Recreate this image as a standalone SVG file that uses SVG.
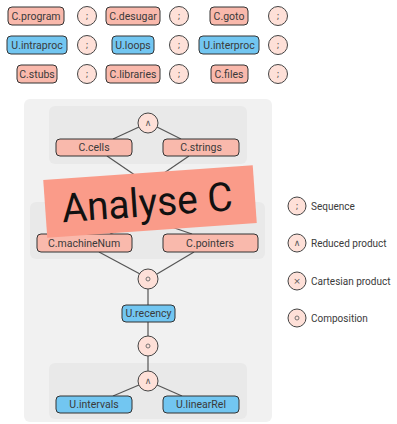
<svg xmlns="http://www.w3.org/2000/svg" width="397" height="424" viewBox="0 0 397 424">
  <style>
    text { font-family: Roboto, "Noto Sans", "DejaVu Sans", sans-serif; fill: #3a3a3a; }
    .lbl { font-size: 10.5px; text-anchor: middle; dominant-baseline: central; }
    .c { fill: #f9b9ac; stroke: #333; stroke-width: 1; }
    .u { fill: #72c6f1; stroke: #333; stroke-width: 1; }
    .op { fill: #fee0d8; stroke: #444; stroke-width: 1; }
    .sym { font-family: "DejaVu Sans", sans-serif; font-size: 9px; text-anchor: middle; dominant-baseline: central; fill: #555; }
    .ring { fill: none; stroke: #666; stroke-width: 0.9; }
    .edge { stroke: #555; stroke-width: 1.2; fill: none; }
    .leg { font-size: 10px; dominant-baseline: central; }
  </style>

  <rect width="397" height="424" fill="#ffffff"/>

  <!-- sequence rows -->
  <g id="c-program"><rect class="c" x="8" y="7" width="56" height="18" rx="4"/><text class="lbl" x="36" y="16">C.program</text></g>
  <g id="seq-1"><circle class="op" cx="87" cy="16" r="9.5"/><text class="sym" x="87" y="16">;</text></g>
  <g id="c-desugar"><rect class="c" x="106" y="7" width="54" height="18" rx="4"/><text class="lbl" x="133" y="16">C.desugar</text></g>
  <g id="seq-2"><circle class="op" cx="179" cy="16" r="9.5"/><text class="sym" x="179" y="16">;</text></g>
  <g id="c-goto"><rect class="c" x="210" y="7" width="38" height="18" rx="4"/><text class="lbl" x="229" y="16">C.goto</text></g>
  <g id="seq-3"><circle class="op" cx="278" cy="16" r="9.5"/><text class="sym" x="278" y="16">;</text></g>

  <g id="u-intraproc"><rect class="u" x="7" y="36" width="60" height="18" rx="4"/><text class="lbl" x="37" y="45">U.intraproc</text></g>
  <g id="seq-4"><circle class="op" cx="87" cy="45" r="9.5"/><text class="sym" x="87" y="45">;</text></g>
  <g id="u-loops"><rect class="u" x="112" y="36" width="42" height="18" rx="4"/><text class="lbl" x="133" y="45">U.loops</text></g>
  <g id="seq-5"><circle class="op" cx="179" cy="45" r="9.5"/><text class="sym" x="179" y="45">;</text></g>
  <g id="u-interproc"><rect class="u" x="199" y="36" width="60" height="18" rx="4"/><text class="lbl" x="229" y="45">U.interproc</text></g>
  <g id="seq-6"><circle class="op" cx="278" cy="45" r="9.5"/><text class="sym" x="278" y="45">;</text></g>

  <g id="c-stubs"><rect class="c" x="17" y="65" width="40" height="18" rx="4"/><text class="lbl" x="37" y="74">C.stubs</text></g>
  <g id="seq-7"><circle class="op" cx="87" cy="74" r="9.5"/><text class="sym" x="87" y="74">;</text></g>
  <g id="c-libraries"><rect class="c" x="106" y="65" width="54" height="18" rx="4"/><text class="lbl" x="133" y="74">C.libraries</text></g>
  <g id="seq-8"><circle class="op" cx="179" cy="74" r="9.5"/><text class="sym" x="179" y="74">;</text></g>
  <g id="c-files"><rect class="c" x="211" y="65" width="37" height="18" rx="4"/><text class="lbl" x="229" y="74">C.files</text></g>
  <g id="seq-9"><circle class="op" cx="278" cy="74" r="9.5"/><text class="sym" x="278" y="74">;</text></g>

  <!-- analysis panel and groups -->
  <rect x="24" y="99" width="248" height="323" rx="6" fill="#f1f1f1"/>
  <rect x="49" y="106" width="198" height="58" rx="6" fill="#e9e9e9"/>
  <rect x="30" y="202" width="235" height="57" rx="6" fill="#e9e9e9"/>
  <rect x="49" y="363" width="198" height="56" rx="6" fill="#e9e9e9"/>

  <g id="connectors">
    <line class="edge" x1="139" y1="127" x2="113" y2="139"/>
    <line class="edge" x1="157" y1="127" x2="181" y2="139"/>
    <line class="edge" x1="107" y1="156" x2="148" y2="184"/>
    <line class="edge" x1="189" y1="156" x2="148" y2="184"/>
    <line class="edge" x1="148" y1="184" x2="148" y2="219"/>
    <line class="edge" x1="148" y1="219" x2="110" y2="234"/>
    <line class="edge" x1="148" y1="219" x2="192" y2="234"/>
    <line class="edge" x1="99" y1="252" x2="140" y2="274"/>
    <line class="edge" x1="194" y1="252" x2="157" y2="274"/>
    <line class="edge" x1="148" y1="289" x2="148" y2="305"/>
    <line class="edge" x1="148" y1="322" x2="148" y2="336"/>
    <line class="edge" x1="148" y1="356" x2="148" y2="371"/>
    <line class="edge" x1="139" y1="385" x2="113" y2="396"/>
    <line class="edge" x1="157" y1="385" x2="182" y2="396"/>
  </g>

  <g id="and-top"><circle class="op" cx="148" cy="123" r="10"/><text class="sym" x="148" y="123">∧</text></g>
  <g id="c-cells"><rect class="c" x="56" y="139" width="76" height="17" rx="4"/><text class="lbl" x="94" y="147.5">C.cells</text></g>
  <g id="c-strings"><rect class="c" x="163" y="139" width="76" height="17" rx="4"/><text class="lbl" x="201" y="147.5">C.strings</text></g>
  <g id="c-machinenum"><rect class="c" x="37" y="234" width="95" height="18" rx="4"/><text class="lbl" x="84" y="243">C.machineNum</text></g>
  <g id="c-pointers"><rect class="c" x="163" y="234" width="95" height="18" rx="4"/><text class="lbl" x="210" y="243">C.pointers</text></g>
  <g id="comp-1"><circle class="op" cx="148" cy="279" r="10"/><circle class="ring" cx="148" cy="279" r="2"/></g>
  <g id="u-recency"><rect class="u" x="122" y="305" width="53" height="17" rx="4"/><text class="lbl" x="148.5" y="313.5">U.recency</text></g>
  <g id="comp-2"><circle class="op" cx="148" cy="346" r="10"/><circle class="ring" cx="148" cy="346" r="2"/></g>
  <g id="and-bottom"><circle class="op" cx="148" cy="381" r="10"/><text class="sym" x="148" y="381">∧</text></g>
  <g id="u-intervals"><rect class="u" x="56" y="396" width="76" height="17" rx="4"/><text class="lbl" x="94" y="404.5">U.intervals</text></g>
  <g id="u-linearrel"><rect class="u" x="163" y="396" width="76" height="17" rx="4"/><text class="lbl" x="201" y="404.5">U.linearRel</text></g>

  <!-- title tag -->
  <g id="title" transform="rotate(-4 150 201.5)">
    <rect x="45" y="172.5" width="210" height="58" fill="#fa9b89"/>
    <text x="147" y="216" font-family="'Noto Sans', 'Open Sans', sans-serif" font-size="40" text-anchor="middle" textLength="171" lengthAdjust="spacingAndGlyphs" style="fill:#111">Analyse C</text>
  </g>

  <!-- legend -->
  <g id="legend-sequence"><circle class="op" cx="297" cy="206" r="9"/><text class="sym" x="297" y="206">;</text><text class="leg" x="311" y="206">Sequence</text></g>
  <g id="legend-reduced"><circle class="op" cx="297" cy="243" r="9"/><text class="sym" x="297" y="243">∧</text><text class="leg" x="311" y="243">Reduced product</text></g>
  <g id="legend-cartesian"><circle class="op" cx="297" cy="281" r="9"/><text class="sym" x="297" y="281">×</text><text class="leg" x="311" y="281">Cartesian product</text></g>
  <g id="legend-composition"><circle class="op" cx="297" cy="318" r="9"/><circle class="ring" cx="297" cy="318" r="2"/><text class="leg" x="311" y="318">Composition</text></g>
</svg>
